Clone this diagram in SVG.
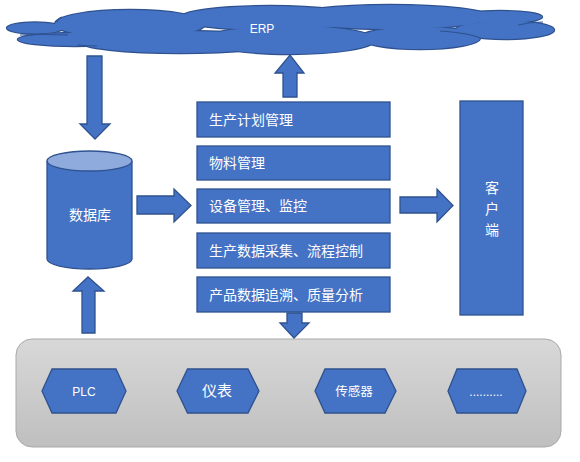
<svg xmlns="http://www.w3.org/2000/svg" width="580" height="462" viewBox="0 0 580 462">
<defs>
<linearGradient id="panelGrad" x1="0" y1="0" x2="0" y2="1">
<stop offset="0" stop-color="#d8d8d8"/>
<stop offset="1" stop-color="#bfbfbf"/>
</linearGradient>
<g id="cloudShapes">
<ellipse cx="35" cy="28" rx="28" ry="5.5"/>
<ellipse cx="75" cy="39.5" rx="57" ry="6.5"/>
<ellipse cx="130" cy="24" rx="75" ry="14"/>
<ellipse cx="180" cy="42" rx="100" ry="11"/>
<ellipse cx="290" cy="40" rx="85" ry="14"/>
<ellipse cx="270" cy="18" rx="90" ry="12"/>
<ellipse cx="390" cy="17" rx="100" ry="12"/>
<ellipse cx="420" cy="38" rx="60" ry="11"/>
<ellipse cx="500" cy="17" rx="42" ry="6"/>
<ellipse cx="505" cy="30" rx="49" ry="9"/>
</g>
</defs>
<style>
.blue{fill:#4472c4;stroke:#2f528f;stroke-width:1.3}
.txt{font-family:"Noto Sans CJK SC","Noto Sans",sans-serif;font-size:14px;fill:#ffffff}
.lat{font-family:"Liberation Sans",Arial,sans-serif;font-size:12px;fill:#ffffff}
.inner{fill:none;stroke:#2f528f;stroke-width:1.2}
</style>

<rect width="580" height="462" fill="#ffffff"/>

<g id="erp">
<use href="#cloudShapes" fill="none" stroke="#2f528f" stroke-width="2.4"/>
<use href="#cloudShapes" fill="#4472c4"/>
<path class="inner" d="M20 35 Q45 34 68 35"/>
<path class="inner" d="M77 45 Q88 46 97 46"/>
<path class="inner" d="M440 31 Q470 33 480 38"/>
<path class="inner" d="M518 25 Q530 22 543 22"/>
<path class="inner" d="M57 22 Q58 18 62 17"/>
<text class="lat" x="262" y="33" text-anchor="middle">ERP</text>
</g>

<g id="database">
<path class="blue" d="M47 161 L47 259 A42.5 10 0 0 0 132 259 L132 161"/>
<ellipse cx="89.5" cy="161" rx="42.5" ry="10" fill="#8faadc" stroke="#2f528f" stroke-width="1.3"/>
<text class="txt" x="90" y="220" text-anchor="middle">数据库</text>
</g>

<g id="m1"><rect class="blue" x="197" y="102" width="193" height="35"/><text class="txt" x="209" y="124.5">生产计划管理</text></g>
<g id="m2"><rect class="blue" x="197" y="146" width="193" height="34"/><text class="txt" x="209" y="168">物料管理</text></g>
<g id="m3"><rect class="blue" x="197" y="189" width="193" height="34"/><text class="txt" x="209" y="211">设备管理、监控</text></g>
<g id="m4"><rect class="blue" x="197" y="233" width="193" height="35"/><text class="txt" x="209" y="255.5">生产数据采集、流程控制</text></g>
<g id="m5"><rect class="blue" x="197" y="277" width="193" height="35"/><text class="txt" x="209" y="299.5">产品数据追溯、质量分析</text></g>

<g id="client">
<rect class="blue" x="460" y="101" width="63" height="214"/>
<text class="txt" x="492" y="193" text-anchor="middle">客</text>
<text class="txt" x="492" y="214" text-anchor="middle">户</text>
<text class="txt" x="492" y="235" text-anchor="middle">端</text>
</g>

<g id="devices">
<rect x="16" y="339" width="545" height="108" rx="16" ry="16" fill="url(#panelGrad)" stroke="#a9a9a9" stroke-width="1"/>
<g id="plc"><polygon class="blue" points="42,391 52,369 116,369 126,391 116,413 52,413"/><text class="lat" x="84" y="395.5" text-anchor="middle">PLC</text></g>
<g id="meter"><polygon class="blue" points="177,391 187.5,369 248,369 259,391 248,413 187.5,413"/><text class="txt" x="217" y="396" text-anchor="middle" style="font-size:15px">仪表</text></g>
<g id="sensor"><polygon class="blue" points="315,391 325,369 385,369 396,391 385,413 325,413"/><text class="txt" x="354" y="395.5" text-anchor="middle" style="font-size:12.5px">传感器</text></g>
<g id="more"><polygon class="blue" points="448,391 457,369 517,369 526,391 517,413 457,413"/><text class="lat" x="486" y="396" text-anchor="middle">..........</text></g>
</g>

<g id="connectors">
<polygon class="blue" points="87,56 102,56 102,124 110,124 95,139 80,124 87,124"/>
<polygon class="blue" points="283,97 297,97 297,73 304,73 290,55 275,73 283,73"/>
<polygon class="blue" points="82,333 95,333 95,291 104,291 88,277 73,291 82,291"/>
<polygon class="blue" points="287,313 302,313 302,323 309,323 294,338 280,323 287,323"/>
<polygon class="blue" points="137,196 174,196 174,189 191,205.5 174,222 174,214 137,214"/>
<polygon class="blue" points="400,197 437,197 437,189 453,205.5 437,222 437,213 400,213"/>
</g>
</svg>
